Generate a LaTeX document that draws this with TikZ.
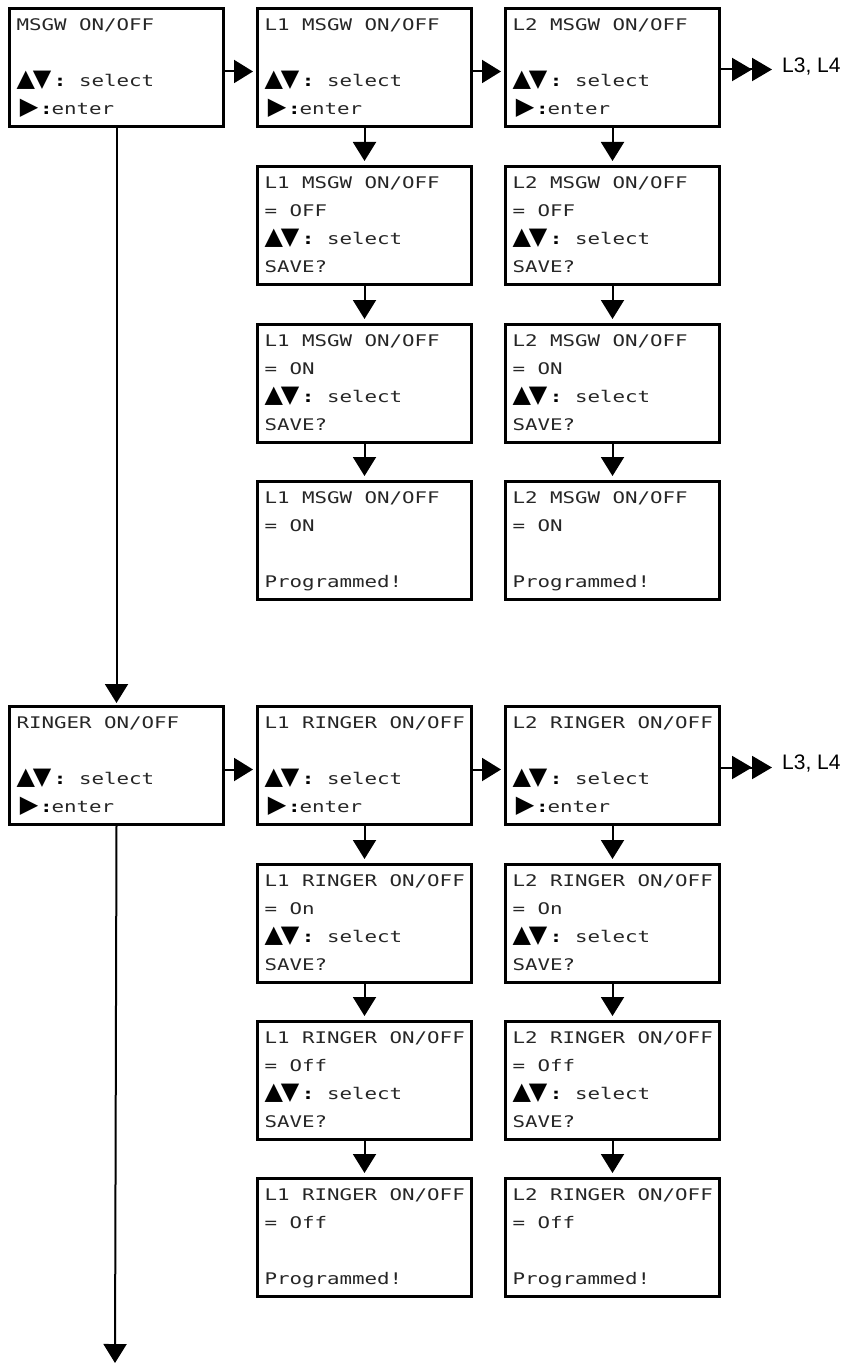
\documentclass[tikz,border=0pt]{standalone}
\usepackage{fontspec}
\usetikzlibrary{arrows.meta}
\newfontfamily\lcdfont[FakeStretch=1.3]{DejaVu Sans Mono}
\newfontfamily\symfont{DejaVu Sans}
\newfontfamily\labfont{Liberation Sans}
\newlength\cellw \setlength\cellw{12.5pt}
\newcommand\lcdline[1]{\spaceskip=\cellw\relax\xspaceskip=\cellw\relax\rule[-6pt]{0pt}{22pt}\mbox{#1}}
\newcommand\updown{\makebox[3\cellw][l]{\color{black}\symfont\fontsize{24pt}{24pt}\selectfont ▲\kern-2pt▼}\makebox[\cellw][c]{\color{black}\bfseries :}\makebox[\cellw]{}select}
\newcommand\enterln{\makebox[2\cellw][c]{\color{black}\symfont\fontsize{24pt}{24pt}\selectfont ▶}\makebox[0.8\cellw][c]{\color{black}\bfseries :}enter}
\newcommand\screen[6]{\node[lcdbox] (#1) at (#2) {\lcdline{#3}\\\lcdline{#4}\\\lcdline{#5}\\\lcdline{#6}};}
\tikzset{
  lcdbox/.style={draw, line width=3pt, anchor=north west, minimum width=214pt,
    minimum height=118pt, inner ysep=0pt, inner xsep=7pt, text width=200pt,
    align=left, text=black!85,
    font={\lcdfont\fontsize{16pt}{28pt}\selectfont}},
  conn/.style={line width=2pt, -{Triangle[length=19pt,width=23pt]}},
  dbl/.style={line width=2pt, -{Triangle[length=20pt,width=23pt,sep=0pt]Triangle[length=20pt,width=23pt]}},
  lab/.style={inner sep=0pt, anchor=west, font={\labfont\fontsize{21pt}{24pt}\selectfont}}
}
\begin{document}
\begin{tikzpicture}[x=1pt,y=-1pt]
\useasboundingbox (0,0) rectangle (848,1364);
% MSGW block
\screen{m0}{8,7}{MSGW ON/OFF}{}{\updown}{\enterln}
\screen{m1}{256,7}{L1 MSGW ON/OFF}{}{\updown}{\enterln}
\screen{m2}{504,7}{L2 MSGW ON/OFF}{}{\updown}{\enterln}
\screen{m1a}{256,165}{L1 MSGW ON/OFF}{= OFF}{\updown}{SAVE?}
\screen{m2a}{504,165}{L2 MSGW ON/OFF}{= OFF}{\updown}{SAVE?}
\screen{m1b}{256,323}{L1 MSGW ON/OFF}{= ON}{\updown}{SAVE?}
\screen{m2b}{504,323}{L2 MSGW ON/OFF}{= ON}{\updown}{SAVE?}
\screen{m1c}{256,480}{L1 MSGW ON/OFF}{= ON}{}{Programmed!}
\screen{m2c}{504,480}{L2 MSGW ON/OFF}{= ON}{}{Programmed!}
\node[lab] (ml) at (782,67) {L3, L4};
% RINGER block
\screen{r0}{8,705}{RINGER ON/OFF}{}{\updown}{\enterln}
\screen{r1}{256,705}{L1 RINGER ON/OFF}{}{\updown}{\enterln}
\screen{r2}{504,705}{L2 RINGER ON/OFF}{}{\updown}{\enterln}
\screen{r1a}{256,863}{L1 RINGER ON/OFF}{= On}{\updown}{SAVE?}
\screen{r2a}{504,863}{L2 RINGER ON/OFF}{= On}{\updown}{SAVE?}
\screen{r1b}{256,1020}{L1 RINGER ON/OFF}{= Off}{\updown}{SAVE?}
\screen{r2b}{504,1020}{L2 RINGER ON/OFF}{= Off}{\updown}{SAVE?}
\screen{r1c}{256,1177}{L1 RINGER ON/OFF}{= Off}{}{Programmed!}
\screen{r2c}{504,1177}{L2 RINGER ON/OFF}{= Off}{}{Programmed!}
\node[lab] (rl) at (782,764) {L3, L4};
\coordinate (rend) at (115,1363);
% connectors
\foreach \p in {m,r}{
  \draw[conn, shorten >=3pt] ([yshift=-4pt]\p0.east) -- ([yshift=-4pt]\p1.west);
  \draw[conn, shorten >=3pt] ([yshift=-4pt]\p1.east) -- ([yshift=-4pt]\p2.west);
  \draw[conn, shorten >=4pt] (\p1.south) -- (\p1a.north);
  \draw[conn, shorten >=4pt] (\p1a.south) -- (\p1b.north);
  \draw[conn, shorten >=4pt] (\p1b.south) -- (\p1c.north);
  \draw[conn, shorten >=4pt] (\p2.south) -- (\p2a.north);
  \draw[conn, shorten >=4pt] (\p2a.south) -- (\p2b.north);
  \draw[conn, shorten >=4pt] (\p2b.south) -- (\p2c.north);
}
\draw[dbl, shorten >=10pt] ([yshift=-2pt]m2.east) -- ([yshift=-2pt]m2.east -| ml.west);
\draw[dbl, shorten >=10pt] ([yshift=-2pt]r2.east) -- ([yshift=-2pt]r2.east -| rl.west);
\draw[conn, shorten >=2pt] (m0.south) -- (r0.north);
\draw[conn] (r0.south) -- (rend);
\end{tikzpicture}
\end{document}
